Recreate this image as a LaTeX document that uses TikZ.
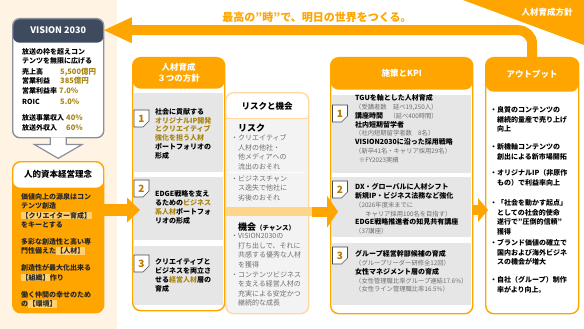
\documentclass[tikz,border=0pt]{standalone}
\usepackage{fontspec}
\setmainfont{Noto Sans CJK JP}
\usetikzlibrary{arrows.meta,shapes.misc}

\definecolor{kporange}{HTML}{FFA500}
\definecolor{lightband}{HTML}{FFD58C}
\definecolor{cream}{HTML}{FFF4E4}
\definecolor{visnavy}{HTML}{3E4A5E}
\definecolor{goldtext}{HTML}{A8830F}
\definecolor{rowgray}{HTML}{E6E6E6}
\definecolor{midgray}{HTML}{F3F3F3}
\definecolor{softorange}{HTML}{FFD9A3}
\definecolor{textgray}{HTML}{6E6E6E}
\definecolor{numbrown}{HTML}{B87700}
\definecolor{hlorange}{HTML}{FFCF70}
\definecolor{visframe}{HTML}{8A8F99}

\newcommand{\goldtxt}[1]{\textcolor{goldtext}{#1}}
\newcommand{\graynote}[1]{{\mdseries\fontsize{6.3}{8.8}\selectfont\textcolor{textgray}{#1}}}
\newcommand{\hlbox}[1]{{\setlength{\fboxsep}{0.3pt}\colorbox{hlorange}{#1}}}

\tikzset{
  colframe/.style={draw=kporange, line width=1.4pt, rounded corners=8pt, anchor=north west, inner sep=0pt, fill=white},
  headfill/.style 2 args={path picture={\fill[#1] (path picture bounding box.north west) rectangle ([yshift=-#2]path picture bounding box.north east);}},
  headtxt/.style={anchor=north, inner sep=0pt, align=center, font=\fontsize{8.5}{10.5}\selectfont\bfseries},
  rowbox/.style={fill=rowgray, anchor=north west, inner sep=0pt},
  bodytxt/.style={anchor=north west, align=left, inner sep=0pt, font=\fontsize{7}{9.2}\selectfont\bfseries},
  risktxt/.style={bodytxt, text=textgray, font=\fontsize{7}{9.5}\selectfont\mdseries},
  kpitxt/.style={bodytxt, font=\fontsize{7}{8.9}\selectfont\bfseries},
  outtxt/.style={bodytxt, font=\fontsize{7}{9.5}\selectfont\bfseries},
  vislbl/.style={anchor=west, inner sep=0pt, font=\fontsize{7}{8}\selectfont\bfseries},
  visval/.style={anchor=west, inner sep=0pt, text=goldtext, font=\fontsize{7.5}{9}\selectfont\bfseries},
  numtag/.style={chamfered rectangle, chamfered rectangle corners=south east, chamfered rectangle xsep=3pt, chamfered rectangle ysep=3pt,
    draw=black!70, fill=white, line width=0.6pt, minimum width=15pt, minimum height=17pt, inner sep=0pt,
    text=numbrown, font=\fontsize{10}{10}\selectfont\bfseries},
  fatarrow/.style={draw=kporange, line width=10pt},
  hollowarrow/.style={fill=white, draw=visframe, line width=1.2pt, line join=miter}
}

\begin{document}
\begin{tikzpicture}[x=1pt, y=-1pt]
  \useasboundingbox (0,0) rectangle (584,329);
  \fill[white] (0,0) rectangle (584,329);
  \fill[cream] (0,0) rectangle (117,329);
  \fill[kporange] (463,0) -- (584,0) -- (584,45) -- cycle;
  \node[text=white, font=\fontsize{8.5}{10}\selectfont\bfseries] (policy) at (547,12) {人材育成方針};
  \node[text=kporange, font=\fontsize{11}{12}\selectfont\bfseries] (motto) at (317,17) {最高の"時"で、明日の世界をつくる。};

  \node[colframe, draw=visframe, rounded corners=7pt, minimum width=91pt, minimum height=119pt, headfill={visnavy}{24pt}] (vis) at (12,18) {};
  \node[headtxt, text=white, minimum width=91pt, minimum height=24pt, font=\fontsize{9}{10}\selectfont\bfseries] (vishead) at (vis.north) {VISION 2030};
  \node[bodytxt, font=\fontsize{7}{9}\selectfont\bfseries] (vistext) at (22,48) {放送の枠を超えコン\\テンツを無限に広げる};
  \node[vislbl] (sales) at (22,72) {売上高};
  \node[visval] (salesv) at (60,72) {5,500億円};
  \node[vislbl] (profit) at (22,81) {営業利益};
  \node[visval] (profitv) at (60,81) {385億円};
  \node[vislbl] (margin) at (22,91) {営業利益率};
  \node[visval] (marginv) at (59,91) {7.0\%};
  \node[vislbl] (roic) at (22,102) {ROIC};
  \node[visval] (roicv) at (60,102) {5.0\%};
  \node[vislbl] (broad) at (22,118) {放送事業収入};
  \node[visval] (broadv) at (66,118) {40\%};
  \node[vislbl] (nonbroad) at (22,128) {放送外収入};
  \node[visval] (nonbroadv) at (66,128) {60\%};

  \node[colframe, fill=kporange, minimum width=91pt, minimum height=151pt, headfill={white}{26pt}] (hr) at (12,161) {};
  \node[headtxt, minimum width=91pt, minimum height=26pt] (hrhead) at (hr.north) {人的資本経営理念};
  \node[bodytxt, text=black!85] (hrtext) at (21,193.5) {価値向上の源泉はコン\\テンツ創造\\\hlbox{【クリエイター育成】}\\をキーとする\\[8pt]多彩な創造性と高い専\\門性備えた\hlbox{【人材】}\\[8pt]創造性が最大化出来る\\\hlbox{【組織】}作り\\[8pt]働く仲間の幸せのため\\の\hlbox{【環境】}};

  \node[colframe, minimum width=92pt, minimum height=253pt, headfill={kporange}{31pt}] (pol) at (132,57) {};
  \node[headtxt, text=white, minimum width=92pt, minimum height=31pt] (polhead) at (pol.north) {人材育成\\３つの方針};
  \node[rowbox, minimum width=89pt, minimum height=79pt] (pr1) at (133.5,93) {};
  \node[rowbox, minimum width=89pt, minimum height=63pt] (pr2) at (133.5,177) {};
  \node[rowbox, minimum width=89pt, minimum height=59pt] (pr3) at (133.5,246) {};
  \node[bodytxt, font=\fontsize{7}{8.9}\selectfont\bfseries] (pt1) at (155,108) {社会に貢献する\\\goldtxt{オリジナルIP開発}\\\goldtxt{とクリエイティブ}\\\goldtxt{強化を担う人材}\\ポートフォリオの\\形成};
  \node[bodytxt, font=\fontsize{7}{8.9}\selectfont\bfseries] (pt2) at (155,190.5) {EDGE戦略を支え\\るための\goldtxt{ビジネス}\\\goldtxt{系人材}ポートフォ\\リオの形成};
  \node[bodytxt, font=\fontsize{7}{8.9}\selectfont\bfseries] (pt3) at (155,258) {クリエイティブと\\ビジネスを両立さ\\せる\goldtxt{経営人材}層の\\育成};

  \node[colframe, draw=softorange, fill=midgray, minimum width=83pt, minimum height=221pt, headfill={white}{26pt}] (mid) at (225,92) {};
  \node[headtxt, minimum width=83pt, minimum height=28pt] (midhead) at (mid.north) {リスクと機会};
  \draw[softorange, line width=1pt] (mid.west|-0,118) -- (mid.east|-0,118);
  \node[anchor=north west, fill=lightband, minimum width=87pt, minimum height=9pt, inner sep=0pt] (band) at (225,207) {};
  \draw[white, line width=0.8pt] (229,172) -- (305,172);
  \node[anchor=west, inner sep=0pt, font=\fontsize{9}{10}\selectfont\bfseries] (risklbl) at (238,128) {リスク};
  \node[risktxt] (risk1) at (231,134.5) {・クリエイティブ\\\hspace*{1em}人材の他社・\\\hspace*{1em}他メディアへの\\\hspace*{1em}流出のおそれ};
  \node[risktxt] (risk2) at (231,175.5) {・ビジネスチャン\\\hspace*{1em}ス逸失で他社に\\\hspace*{1em}劣後のおそれ};
  \node[anchor=west, inner sep=0pt, font=\fontsize{9}{10}\selectfont\bfseries] (opplbl) at (238,227) {機会{\fontsize{6.5}{8}\selectfont（チャンス）}};
  \node[risktxt] (opp1) at (231,233.5) {・VISION2030の\\\hspace*{1em}打ち出しで、それに\\\hspace*{1em}共感する優秀な人材\\\hspace*{1em}を獲得};
  \node[risktxt] (opp2) at (231,271.5) {・コンテンツビジネス\\\hspace*{1em}を支える経営人材の\\\hspace*{1em}充実による安定かつ\\\hspace*{1em}継続的な成長};

  \node[colframe, minimum width=142pt, minimum height=256pt, headfill={kporange}{32pt}] (kpi) at (330,57) {};
  \node[headtxt, text=white, minimum width=142pt, minimum height=32pt] (kpihead) at (kpi.north) {施策とKPI};
  \node[rowbox, minimum width=139pt, minimum height=78pt] (kr1) at (331.5,95) {};
  \node[rowbox, minimum width=139pt, minimum height=60pt] (kr2) at (331.5,177) {};
  \node[rowbox, minimum width=139pt, minimum height=62pt] (kr3) at (331.5,243) {};
  \node[kpitxt] (kt1) at (355,94) {TGUを軸とした人材育成\\\graynote{（受講者数　延べ19,250人）}\\講座時間\graynote{　（延べ400時間）}\\社内短期留学者\\\graynote{（社内短期留学者数　8名）}\\VISION2030に沿った採用戦略\\\graynote{（新卒41名・キャリア採用29名）}\\\graynote{\hspace*{0.6em}※FY2023実績}};
  \node[kpitxt] (kt2) at (355,183) {DX・グローバルに人材シフト\\新規IP・ビジネス法務など強化\\\graynote{（2026年度末までに}\\\graynote{\hspace*{1.6em}キャリア採用100名を目指す）}\\EDGE戦略推進者の知見共有講座\\\graynote{（37講座）}};
  \node[kpitxt] (kt3) at (355,250) {グループ経営幹部候補の育成\\\graynote{（グループリーダー研修全12回）}\\女性マネジメント層の育成\\\graynote{（女性管理職比率グループ連結17.6\%）}\\\graynote{（女性ライン管理職比率16.5\%）}};

  \node[colframe, minimum width=93pt, minimum height=256pt, headfill={kporange}{34pt}] (out) at (485,57) {};
  \node[headtxt, text=white, minimum width=93pt, minimum height=34pt] (outhead) at (out.north) {アウトプット};
  \node[outtxt] (o1) at (490,106.5) {・良質のコンテンツの\\\hspace*{1em}継続的量産で売り上げ\\\hspace*{1em}向上};
  \node[outtxt] (o2) at (490,143.5) {・新機軸コンテンツの\\\hspace*{1em}創出による新市場開拓};
  \node[outtxt] (o3) at (490,169.5) {・オリジナルIP（非原作\\\hspace*{1em}もの）で利益率向上};
  \node[outtxt] (o4) at (490,199.5) {・「社会を動かす起点」\\\hspace*{1em}としての社会的使命\\\hspace*{1em}遂行で"圧倒的信頼"\\\hspace*{1em}獲得};
  \node[outtxt] (o5) at (490,239.5) {・ブランド価値の確立で\\\hspace*{1em}国内および海外ビジネ\\\hspace*{1em}スの機会が増大};
  \node[outtxt] (o6) at (490,276.5) {・自社（グループ）制作\\\hspace*{1em}率がより向上。};

  \draw[fatarrow, rounded corners=14pt, -{Triangle[length=28pt,width=26pt,line width=0pt]}] (out.north) |- (vishead.east);
  \draw[hollowarrow] ([xshift=-8pt,yshift=1pt]vis.south) -- ++(0,7) -- ++(-16,0) -- ([yshift=-20pt]vis.south) -- ++(24,-14) -- ++(-16,0) -- ++(0,-7);
  \draw[fatarrow, line width=12pt, -{Triangle[length=13pt,width=25pt,line width=0pt]}, shorten >=-8pt] (hr.east|-0,210) -- (pol.west|-0,210);
  \draw[fatarrow, -{Triangle[length=11pt,width=32pt,line width=0pt]}, shorten >=-8pt] (band.east) -- (kpi.west|-band.east);
  \draw[fatarrow, -{Triangle[length=10pt,width=24pt,line width=0pt]}, shorten >=-3pt] (kpi.east|-0,210) -- (out.west|-0,210);

  \node[numtag] (pn1) at (141.5,118.5) {1};
  \node[numtag] (pn2) at (141.5,188.5) {2};
  \node[numtag] (pn3) at (141.5,263.5) {3};
  \node[numtag] (kn1) at (340,113.5) {1};
  \node[numtag] (kn2) at (340,189.5) {2};
  \node[numtag] (kn3) at (340,255.5) {3};
\end{tikzpicture}
\end{document}
